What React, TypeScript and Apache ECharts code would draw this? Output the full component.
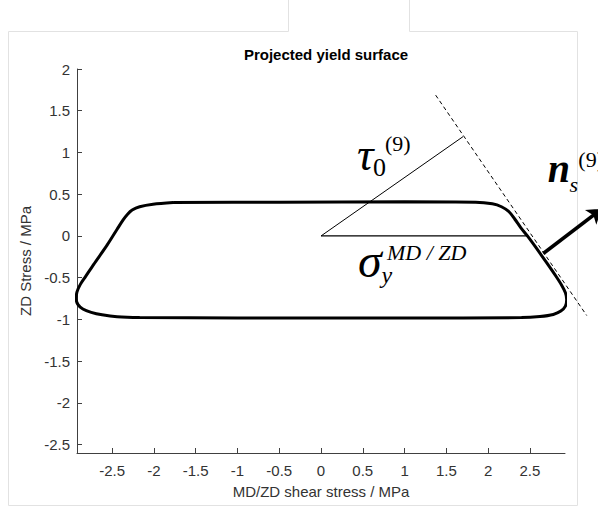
import { useEffect, useRef } from 'react';
import * as echarts from 'echarts';

// Tick positions on both axes (MPa)
const xTicks = [-2.5, -2, -1.5, -1, -0.5, 0, 0.5, 1, 1.5, 2, 2.5];
const yTicks = [-2.5, -2, -1.5, -1, -0.5, 0, 0.5, 1, 1.5, 2];

// Projected yield surface, traced as a closed loop (MD/ZD shear, ZD stress)
const yieldSurface: [number, number][] = [
  [-1.77, 0.4], [-0.5, 0.405], [1.0, 0.41], [1.85, 0.405],
  [2.05, 0.385], [2.16, 0.35], [2.25, 0.29], [2.32, 0.2], [2.39, 0.1],
  [2.47, 0.0], [2.58, -0.15], [2.7, -0.32], [2.81, -0.48], [2.88, -0.59],
  [2.925, -0.68], [2.94, -0.76], [2.925, -0.84], [2.87, -0.9], [2.78, -0.94],
  [2.62, -0.965], [2.4, -0.978],
  [1.0, -0.982], [-1.0, -0.982], [-2.17, -0.977],
  [-2.44, -0.968], [-2.62, -0.945], [-2.75, -0.915], [-2.85, -0.875],
  [-2.91, -0.82], [-2.93, -0.75], [-2.92, -0.67], [-2.88, -0.58],
  [-2.82, -0.49], [-2.72, -0.34], [-2.56, -0.11], [-2.44, 0.08],
  [-2.37, 0.19], [-2.32, 0.255], [-2.26, 0.31], [-2.17, 0.35],
  [-2.01, 0.38], [-1.77, 0.4],
];

// Construction lines
const tauLine: [number, number][] = [[0, 0], [1.7, 1.19]];
const sigmaLine: [number, number][] = [[0, 0], [2.47, 0]];
const tangentLine: [number, number][] = [[1.372, 1.687], [3.18, -0.953]];
const normalArrow: [number, number][] = [[2.66, -0.21], [3.36, 0.325]];

const SERIF = '"Liberation Serif", "Times New Roman", serif';
const SANS = '"Liberation Sans", Arial, Helvetica, sans-serif';

// Symbol labels anchored at data positions: [text, x, baselineY, font]
const symbolLabels: [string, number, number, string][] = [
  ['\u03C4', 0.431, 0.789, `italic 46px ${SERIF}`],
  ['0', 0.622, 0.718, `26px ${SERIF}`],
  ['(9)', 0.766, 1.017, `22px ${SERIF}`],
  ['\u03C3', 0.443, -0.49, `italic 48px ${SERIF}`],
  ['y', 0.725, -0.562, `italic 24px ${SERIF}`],
  ['MD / ZD', 0.789, -0.287, `italic 22px ${SERIF}`],
  ['n', 2.715, 0.646, `italic bold 40px ${SERIF}`],
  ['s', 2.975, 0.526, `italic 22px ${SERIF}`],
  ['(9)', 3.08, 0.825, `22px ${SERIF}`],
];

const AXIS_COLOR = '#404040';
const LABEL_COLOR = '#333333';
const FONT_SIZE = 15;

export default function App() {
  const ref = useRef<HTMLDivElement>(null);

  useEffect(() => {
    if (!ref.current) return;
    const chart = echarts.init(ref.current, undefined, { renderer: 'svg' });

    chart.setOption({
      animation: false,
      backgroundColor: '#ffffff',
      title: {
        text: 'Projected yield surface',
        left: 321,
        top: 42,
        textAlign: 'center',
        textStyle: { fontFamily: SANS, fontSize: FONT_SIZE, fontWeight: 'bold', color: '#000' },
      },
      grid: { left: 77, right: 33, top: 69, bottom: 56 },
      xAxis: {
        type: 'value',
        min: -2.92,
        max: 2.92,
        name: 'MD/ZD shear stress / MPa',
        nameLocation: 'middle',
        nameGap: 31,
        nameTextStyle: { fontFamily: SANS, fontSize: FONT_SIZE, color: LABEL_COLOR },
        axisLine: { show: true, onZero: false, lineStyle: { color: AXIS_COLOR, width: 1 } },
        axisTick: {
          show: true,
          inside: true,
          length: 5,
          customValues: xTicks,
          lineStyle: { color: AXIS_COLOR },
        },
        axisLabel: {
          customValues: xTicks,
          fontFamily: SANS,
          fontSize: FONT_SIZE,
          color: LABEL_COLOR,
          margin: 10,
        },
        splitLine: { show: false },
      },
      yAxis: {
        type: 'value',
        min: -2.6,
        max: 2,
        name: 'ZD Stress / MPa',
        nameLocation: 'middle',
        nameGap: 37,
        nameTextStyle: { fontFamily: SANS, fontSize: FONT_SIZE, color: LABEL_COLOR },
        axisLine: { show: true, onZero: false, lineStyle: { color: AXIS_COLOR, width: 1 } },
        axisTick: {
          show: true,
          inside: true,
          length: 5,
          customValues: yTicks,
          lineStyle: { color: AXIS_COLOR },
        },
        axisLabel: {
          customValues: yTicks,
          fontFamily: SANS,
          fontSize: FONT_SIZE,
          color: LABEL_COLOR,
          margin: 7,
        },
        splitLine: { show: false },
      },
      series: [
        {
          name: 'Yield surface',
          type: 'line',
          data: yieldSurface,
          smooth: 0.3,
          showSymbol: false,
          clip: false,
          lineStyle: { color: '#000', width: 3 },
        },
        {
          name: 'tau',
          type: 'line',
          data: tauLine,
          showSymbol: false,
          clip: false,
          lineStyle: { color: '#000', width: 1 },
        },
        {
          name: 'sigma',
          type: 'line',
          data: sigmaLine,
          showSymbol: false,
          clip: false,
          lineStyle: { color: '#000', width: 1.3 },
        },
        {
          // tangent plane to the surface, runs past the plot box
          name: 'tangent',
          type: 'lines',
          coordinateSystem: 'cartesian2d',
          clip: false,
          symbol: 'none',
          data: [{ coords: tangentLine }],
          lineStyle: { color: '#000', width: 1, type: [4, 3], opacity: 1 },
        },
        {
          // surface normal with arrow head
          name: 'normal',
          type: 'lines',
          coordinateSystem: 'cartesian2d',
          clip: false,
          symbol: ['none', 'arrow'],
          symbolSize: 14,
          data: [{ coords: normalArrow }],
          itemStyle: { color: '#000' },
          lineStyle: { color: '#000', width: 3.5, opacity: 1 },
        },
      ],
    });

    // Place the symbol labels at their data anchors
    const texts = symbolLabels.map(([text, x, y, font]) => {
      const p = chart.convertToPixel({ xAxisIndex: 0, yAxisIndex: 0 }, [x, y]) as number[];
      const size = parseFloat(font.match(/(\d+)px/)![1]);
      return {
        type: 'text',
        x: p[0],
        y: p[1] - 0.34 * size,
        silent: true,
        style: {
          text,
          font,
          fill: '#000',
          align: 'left',
          verticalAlign: 'middle',
          textAlign: 'left',
          textVerticalAlign: 'middle',
        },
      };
    });

    chart.setOption({
      graphic: [
        {
          type: 'polyline',
          silent: true,
          shape: {
            points: [
              [288.5, 0], [288.5, 31.5], [8.5, 31.5], [8.5, 505.5],
              [577.5, 505.5], [577.5, 31.5], [409.5, 31.5], [409.5, 0],
            ],
          },
          style: { stroke: '#e2e2e2', lineWidth: 1, fill: 'none' },
        },
        ...texts,
      ],
    });

    return () => chart.dispose();
  }, []);

  return (
    <div
      ref={ref}
      style={{ position: 'fixed', left: 0, top: 0, width: 598, height: 509, background: '#fff' }}
    />
  );
}
